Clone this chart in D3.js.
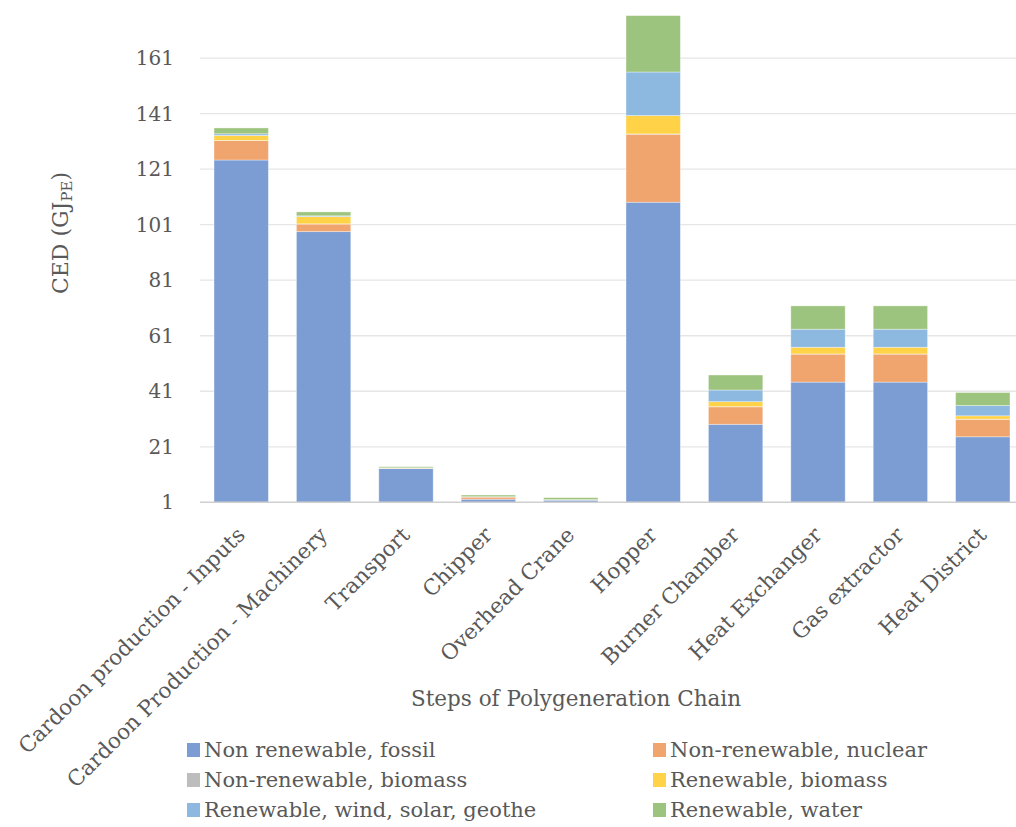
<!DOCTYPE html>
<html><head><meta charset="utf-8">
<script src="https://cdn.jsdelivr.net/npm/d3@7"></script>
<style>
html,body{margin:0;padding:0;background:#fff;}
text{font-family:"DejaVu Serif","Liberation Serif",serif;fill:#595959;}
</style></head>
<body><svg id="chart" width="1016" height="827"></svg>
<script>
const categories = ["Cardoon production - Inputs","Cardoon Production - Machinery","Transport","Chipper","Overhead Crane","Hopper","Burner Chamber","Heat Exchanger","Gas extractor","Heat District"];
const seriesNames = ["Non renewable, fossil","Non-renewable, nuclear","Non-renewable, biomass","Renewable, biomass","Renewable, wind, solar, geothe","Renewable, water"];
const fossil    = [124.3, 98.5, 13.2, 2.1, 1.8, 109.1, 29.1, 44.3, 44.3, 24.6];
const nuclear   = [7.0, 2.75, 0.1, 0.8, 0.05, 24.5, 6.3, 10.1, 10.1, 6.3];
const nrBiomass = [0.05, 0.05, 0.02, 0.02, 0.02, 0.1, 0.05, 0.05, 0.05, 0.05];
const rBiomass  = [1.8, 2.6, 0.05, 0.05, 0.05, 6.6, 1.8, 2.4, 2.4, 1.2];
const windSolar = [0.6, 0.3, 0.05, 0.05, 0.05, 15.7, 4.2, 6.5, 6.5, 3.7];
const water     = [2.1, 1.4, 0.4, 0.6, 0.7, 20.3, 5.4, 8.4, 8.4, 4.7];
const yTicks = [1, 21, 41, 61, 81, 101, 121, 141, 161];
const colors = ["#7C9DD4","#F0A46E","#BDBDBD","#FFD247","#8DB9E1","#9DC47E"];

const seriesVals = [fossil, nuclear, nrBiomass, rBiomass, windSolar, water];
const keys = seriesNames;
const table = categories.map((c,i)=>{const o={cat:c}; keys.forEach((k,j)=>o[k]=seriesVals[j][i]); return o;});
const stacked = d3.stack().keys(keys)(table);

const svg = d3.select("#chart");
const x = d3.scaleBand().domain(categories).range([200,1024]).paddingInner(0.34).paddingOuter(0.17);
const y = d3.scaleLinear().domain([1,181]).range([502.3,2.6]).clamp(true);

// gridlines
svg.append("g").selectAll("line").data(yTicks.slice(1)).join("line")
  .attr("x1",200).attr("x2",1016).attr("y1",d=>y(d)).attr("y2",d=>y(d))
  .attr("stroke","#E6E6E6").attr("stroke-width",1.3);

// bars
svg.append("g").selectAll("g").data(stacked).join("g")
  .attr("fill",(d,i)=>colors[i])
  .selectAll("rect").data(d=>d).join("rect")
  .attr("x",d=>x(d.data.cat)).attr("width",x.bandwidth())
  .attr("y",d=>y(d[1])).attr("height",d=>Math.max(0,y(d[0])-y(d[1])))
  .attr("stroke","#fff").attr("stroke-opacity",0.45).attr("stroke-width",0.8);

// x axis line
svg.append("line").attr("x1",200).attr("x2",1016).attr("y1",y(1)).attr("y2",y(1))
  .attr("stroke","#D0D0D0").attr("stroke-width",1.5);

// y axis labels
const yAxis = d3.axisLeft(y).tickValues(yTicks).tickSize(0).tickPadding(0).tickFormat(d3.format("d"));
const ya = svg.append("g").attr("transform","translate(174,0)").call(yAxis);
ya.select(".domain").remove();
ya.selectAll("text").style("font-family",'"DejaVu Serif",serif').style("font-size","20px").attr("fill","#595959");

// x axis labels
const xAxis = d3.axisBottom(x).tickSize(0).tickPadding(0);
const xa = svg.append("g").attr("transform","translate(0,"+y(1)+")").call(xAxis);
xa.select(".domain").remove();
xa.selectAll("text").style("font-family",'"DejaVu Serif",serif').style("font-size","21.5px").attr("fill","#595959")
  .attr("text-anchor","end").attr("dy",null).attr("y",0)
  .attr("transform","translate(5,34) rotate(-45)");

// axis titles
svg.append("text").attr("x",576).attr("y",706).attr("text-anchor","middle")
  .style("font-size","21.5px").text("Steps of Polygeneration Chain");
const yt = svg.append("text").attr("transform","translate(68,233) rotate(-90)").attr("text-anchor","middle").style("font-size","22px");
yt.append("tspan").text("CED (GJ");
yt.append("tspan").attr("baseline-shift","-25%").style("font-size","15px").text("PE");
yt.append("tspan").text(")");

// legend
const legPos = [[187,750],[653,750],[187,780],[653,780],[187,810],[653,810]];
const leg = svg.append("g").selectAll("g").data(seriesNames).join("g")
  .attr("transform",(d,i)=>"translate("+legPos[i][0]+","+legPos[i][1]+")");
leg.append("rect").attr("x",0).attr("y",-7).attr("width",13).attr("height",14).attr("fill",(d,i)=>colors[i]);
leg.append("text").attr("x",17).attr("y",0).attr("dy","0.35em").style("font-size","21px").text(d=>d);
</script></body></html>
